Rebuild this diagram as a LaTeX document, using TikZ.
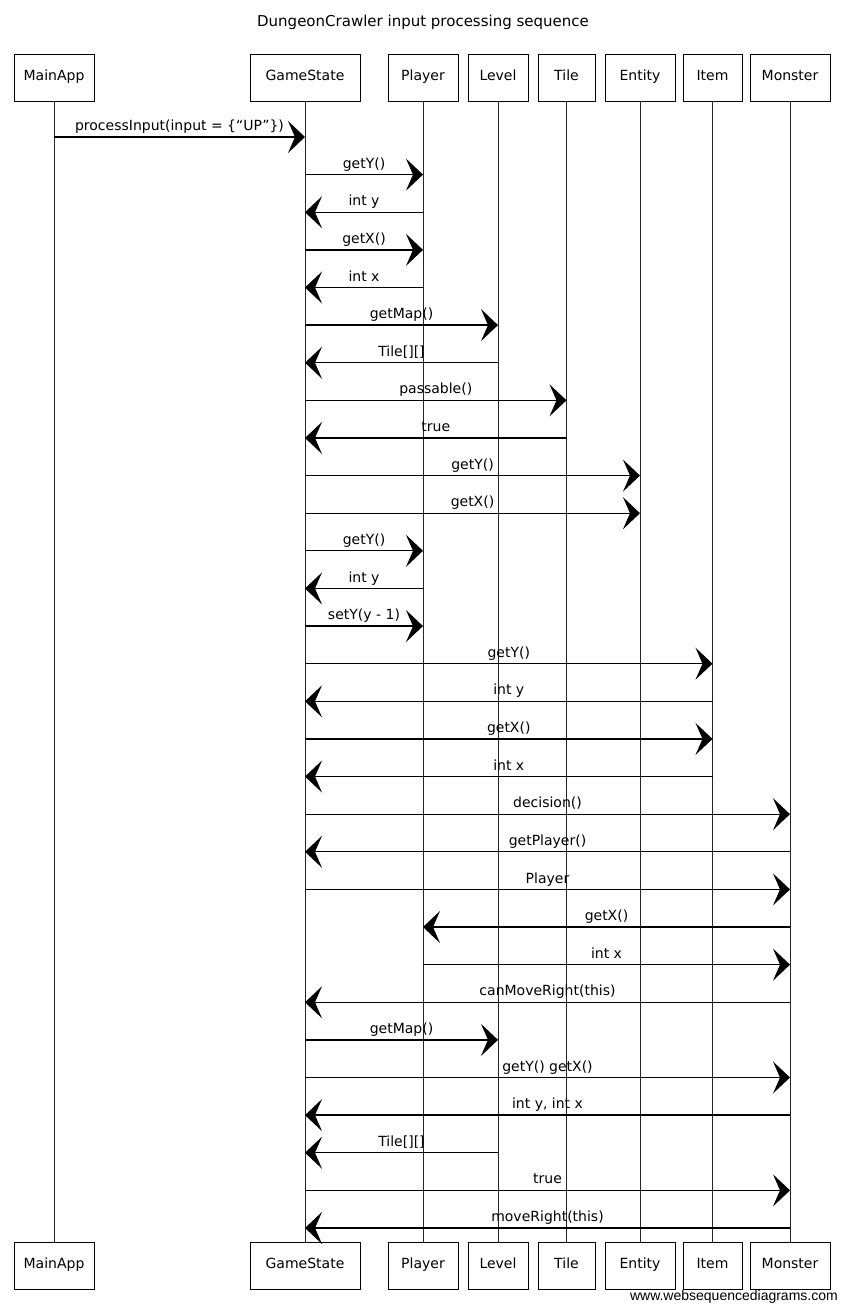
\documentclass[tikz,border=0pt]{standalone}
\usepackage{fontspec}
\setmainfont{DejaVu Sans}
\newfontfamily\wsdfont{Liberation Sans}
\usetikzlibrary{arrows.meta,positioning}

\begin{document}
\begin{tikzpicture}[
    x=1pt, y=-1pt,
    node distance=10pt,
    actor/.style={rectangle, draw, line width=1pt, fill=white, minimum height=47pt, inner sep=2pt, outer sep=0pt, text height=1.6ex, text depth=0.5ex, font=\fontsize{14}{16}\selectfont},
    life/.style={line width=0.8pt, black!85},
    msg/.style={-{Stealth[length=17pt, width=32pt, inset=7pt]}, line width=1.3pt},
    lbl/.style={above=2pt, midway, inner sep=1pt, text height=1.6ex, text depth=0.5ex, font=\fontsize{14}{16}\selectfont}
]
\useasboundingbox (0,0) rectangle (847,1312);

\node[font=\fontsize{15}{18}\selectfont] (title) at (423,22) {DungeonCrawler input processing sequence};

% participants
\node[actor, minimum width=80pt] (main) at (54,77.5) {MainApp};
\node[actor, minimum width=110pt, right=156pt of main] (gs) {GameState};
\node[actor, minimum width=70pt, right=28pt of gs] (pl) {Player};
\node[actor, minimum width=60pt, right=of pl] (lv) {Level};
\node[actor, minimum width=57pt, right=of lv] (tl) {Tile};
\node[actor, minimum width=70pt, right=of tl] (en) {Entity};
\node[actor, minimum width=59pt, right=8pt of en] (it) {Item};
\node[actor, minimum width=80pt, right=8pt of it] (mo) {Monster};

\foreach \n/\l/\w in {main/MainApp/80, gs/GameState/110, pl/Player/70, lv/Level/60, tl/Tile/57, en/Entity/70, it/Item/59, mo/Monster/80} {
    \node[actor, minimum width=\w pt, below=1141pt of \n] (\n-b) {\l};
    \draw[life] (\n) -- (\n-b);
}

% messages
\foreach \a/\b/\t [count=\i] in {
    main/gs/{processInput(input = \{``UP''\})},
    gs/pl/{getY()}, pl/gs/{int y}, gs/pl/{getX()}, pl/gs/{int x},
    gs/lv/{getMap()}, lv/gs/{Tile[][]}, gs/tl/{passable()}, tl/gs/{true},
    gs/en/{getY()}, gs/en/{getX()},
    gs/pl/{getY()}, pl/gs/{int y}, gs/pl/{setY(y - 1)},
    gs/it/{getY()}, it/gs/{int y}, gs/it/{getX()}, it/gs/{int x},
    gs/mo/{decision()}, mo/gs/{getPlayer()}, gs/mo/{Player},
    mo/pl/{getX()}, pl/mo/{int x}, mo/gs/{canMoveRight(this)},
    gs/lv/{getMap()}, gs/mo/{getY() getX()}, mo/gs/{int y, int x},
    lv/gs/{Tile[][]}, gs/mo/{true}, mo/gs/{moveRight(this)}} {
    \pgfmathsetmacro\yy{137+(\i-1)*37.62}
    \draw[msg] (\a |- 0,\yy) -- node[lbl] {\t} (\b |- 0,\yy);
}

\node[anchor=east, font=\wsdfont\fontsize{14}{16}\selectfont, inner sep=0pt] (wsd) at (838,1297) {www.websequencediagrams.com};
\end{tikzpicture}
\end{document}
